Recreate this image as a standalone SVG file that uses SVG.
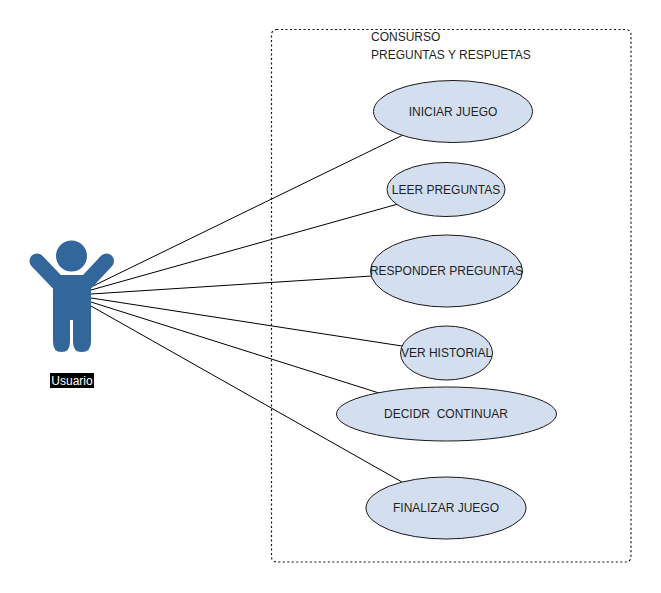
<svg xmlns="http://www.w3.org/2000/svg" width="661" height="593" viewBox="0 0 661 593">
<style>
text{font-family:"Liberation Sans",Arial,sans-serif;font-size:12px;fill:#1f1f1f}
.m{text-anchor:middle}
.e{fill:#d3dfef;stroke:#1a1a1a;stroke-width:1}
.c{stroke:#000;stroke-width:1;fill:none}
.a{fill:#33669a}
.l{stroke:#33669a;stroke-linecap:round;fill:none}
</style>
<rect width="661" height="593" fill="#fff"/>
<g id="boundary"><rect x="271.500" y="29.500" width="359.500" height="532.500" rx="5" fill="none" stroke="#111" stroke-width="1.200" stroke-dasharray="2 2.500"/>
<text x="371" y="41">CONSURSO</text><text x="371" y="59">PREGUNTAS Y RESPUETAS</text></g>
<g id="connectors">
<line class="c" x1="91" y1="287" x2="403" y2="135"/>
<line class="c" x1="91" y1="290" x2="398" y2="204"/>
<line class="c" x1="91" y1="294" x2="372" y2="276"/>
<line class="c" x1="91" y1="298" x2="402" y2="346"/>
<line class="c" x1="91" y1="302" x2="379" y2="393"/>
<line class="c" x1="91" y1="306" x2="402" y2="482"/>
</g>
<g id="actor">
<circle class="a" cx="71.500" cy="256" r="15.500"/>
<path class="l" stroke-width="15" d="M37 261 L60 285"/>
<path class="l" stroke-width="15" d="M106.500 261 L84 285"/>
<path class="a" d="M60 275 H84 L91 282 V342 Q91 352 81.500 352 Q73 352 73 342 V320 H70 V342 Q70 352 61.500 352 Q53 352 53 342 V282 Z"/>
<rect x="50" y="373" width="44" height="15" fill="#000"/>
<text class="m" x="72" y="385" style="fill:#fff">Usuario</text>
</g>
<g id="iniciar"><ellipse class="e" cx="453" cy="111.500" rx="79.500" ry="31"/><text class="m" x="453" y="116">INICIAR JUEGO</text></g>
<g id="leer"><ellipse class="e" cx="446" cy="189.500" rx="59" ry="27"/><text class="m" x="446" y="194">LEER PREGUNTAS</text></g>
<g id="responder"><ellipse class="e" cx="446.500" cy="271" rx="76" ry="36"/><text class="m" x="446.500" y="275">RESPONDER PREGUNTAS</text></g>
<g id="historial"><ellipse class="e" cx="446.500" cy="353" rx="46" ry="27"/><text class="m" x="446.500" y="357">VER HISTORIAL</text></g>
<g id="decidir"><ellipse class="e" cx="446.500" cy="414" rx="110" ry="27"/><text class="m" x="446" y="418" xml:space="preserve">DECIDR  CONTINUAR</text></g>
<g id="finalizar"><ellipse class="e" cx="446" cy="508" rx="80" ry="31"/><text class="m" x="446" y="512">FINALIZAR JUEGO</text></g>
</svg>
